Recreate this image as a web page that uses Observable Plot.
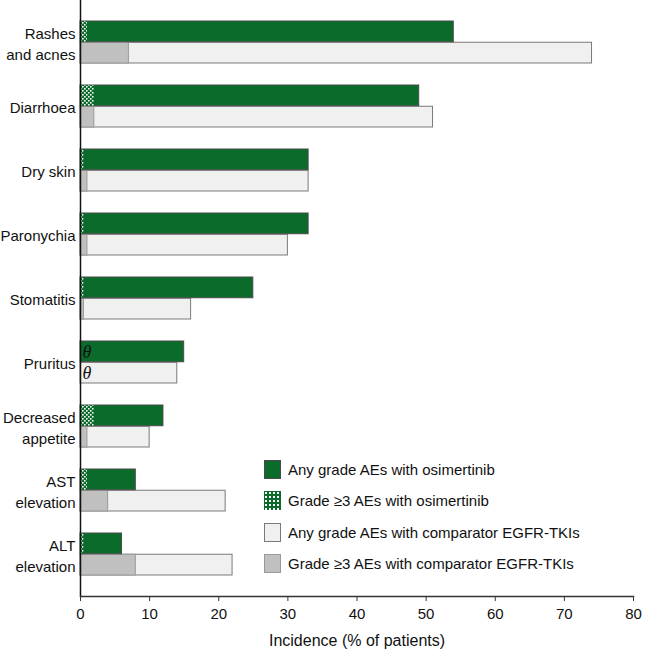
<!DOCTYPE html>
<html>
<head>
<meta charset="utf-8">
<script src="https://cdn.jsdelivr.net/npm/d3@7"></script>
<script src="https://cdn.jsdelivr.net/npm/@observablehq/plot@0.6"></script>
<style>
  body { margin: 0; background: #fff; font-family: "Liberation Sans", Arial, sans-serif; }
  #wrap { position: relative; width: 646px; height: 658px; }
  #legend { position: absolute; left: 264px; top: 459px; font-size: 15px; color: #111; }
  .item { display: flex; align-items: center; height: 20px; margin-bottom: 11.5px; }
  .sw { width: 17px; height: 19px; box-sizing: border-box; margin-right: 7px; }
</style>
</head>
<body>
<div id="wrap"></div>
<script>
const categories = ["Rashes\nand acnes", "Diarrhoea", "Dry skin", "Paronychia", "Stomatitis", "Pruritus", "Decreased\nappetite", "AST\nelevation", "ALT\nelevation"];
const osiAny  = [54, 49, 33, 33, 25, 15, 12, 8, 6];
const osiG3   = [1, 2, 0.5, 0.5, 0.5, 0, 2, 1, 0.5];
const compAny = [74, 51, 33, 30, 16, 14, 10, 21, 22];
const compG3  = [7, 2, 1, 1, 0.5, 0, 1, 4, 8];
const xTicks = [0, 10, 20, 30, 40, 50, 60, 70, 80];
const legendLabels = ["Any grade AEs with osimertinib", "Grade \u22653 AEs with osimertinib", "Any grade AEs with comparator EGFR-TKIs", "Grade \u22653 AEs with comparator EGFR-TKIs"];

const green = "#0b6b2b";
const rows = categories.map((c, i) => ({cat: c, osiAny: osiAny[i], osiG3: osiG3[i], compAny: compAny[i], compG3: compG3[i]}));
const zeroOsi = rows.filter(d => d.osiG3 === 0);
const zeroComp = rows.filter(d => d.compG3 === 0);
const half = 21.25;

const chart = Plot.plot({
  width: 646,
  height: 658,
  marginTop: 0,
  marginLeft: 80,
  marginRight: 13,
  marginBottom: 62,
  style: {fontFamily: "'Liberation Sans', Arial, sans-serif", fontSize: "15px", color: "#111", background: "#fff"},
  x: {domain: [0, 80]},
  y: {domain: categories, paddingInner: 0.336, paddingOuter: 0.324},
  marks: [
    Plot.barX(rows, {y: "cat", x: "compAny", insetTop: half, fill: "#f0f0f0", stroke: "#7a7a7a", strokeWidth: 1}),
    Plot.barX(rows.filter(d => d.compG3 > 0), {y: "cat", x: "compG3", insetTop: half, fill: "#c0c0c0", stroke: "#999", strokeWidth: 1}),
    Plot.barX(rows, {y: "cat", x: "osiAny", insetBottom: half, fill: green, stroke: "#4a4a4a", strokeWidth: 1}),
    Plot.barX(rows.filter(d => d.osiG3 > 0), {y: "cat", x: "osiG3", insetBottom: half, fill: "url(#chk)", stroke: "none"}),
    Plot.text(zeroOsi, {y: "cat", x: 0, text: () => "\u03b8", textAnchor: "start", dx: 2, dy: -10.6, fontStyle: "italic", fontFamily: "'Liberation Serif', 'DejaVu Serif', serif", fontSize: 18, fill: "#111"}),
    Plot.text(zeroComp, {y: "cat", x: 0, text: () => "\u03b8", textAnchor: "start", dx: 2, dy: 10.6, fontStyle: "italic", fontFamily: "'Liberation Serif', 'DejaVu Serif', serif", fontSize: 18, fill: "#111"}),
    Plot.text(categories, {y: d => d, x: 0, text: d => d, textAnchor: "end", dx: -5, lineHeight: 1.42, fontSize: 15, fill: "#111"}),
    Plot.ruleX([0], {stroke: "#111", strokeWidth: 1.5}),
    Plot.frame({anchor: "bottom", stroke: "#333", strokeWidth: 1.5}),
    Plot.axisX({ticks: xTicks, tickSize: 5, tickPadding: 7, fontSize: 15, stroke: "#333", label: "Incidence (% of patients)", labelAnchor: "center", labelArrow: "none", labelOffset: 49}),
    Plot.axisY({ticks: [], label: null})
  ]
});

// pattern for grade >=3 osimertinib bars
const ns = "http://www.w3.org/2000/svg";
const defs = document.createElementNS(ns, "defs");
defs.innerHTML = `<pattern id="chk" patternUnits="userSpaceOnUse" width="4" height="4">
  <rect width="4" height="4" fill="${green}"/>
  <rect x="0" y="0" width="1.6" height="1.6" fill="#fff"/>
  <rect x="2" y="2" width="1.6" height="1.6" fill="#fff"/>
</pattern>`;
chart.insertBefore(defs, chart.firstChild);

// axis title size
chart.querySelectorAll("text").forEach(t => { if (t.textContent === "Incidence (% of patients)") t.setAttribute("font-size", "16"); });

const wrap = document.getElementById("wrap");
wrap.appendChild(chart);

// legend
const swatchStyles = [
  `background:${green}; border:1px solid #4a4a4a;`,
  `background-color:${green}; background-image: radial-gradient(#fff 0.8px, transparent 1px); background-size: 4px 4px; border:none;`,
  `background:#f0f0f0; border:1px solid #7a7a7a;`,
  `background:#c0c0c0; border:1px solid #999;`
];
const legend = document.createElement("div");
legend.id = "legend";
legendLabels.forEach((lab, i) => {
  const item = document.createElement("div");
  item.className = "item";
  const sw = document.createElement("div");
  sw.className = "sw";
  sw.style.cssText = swatchStyles[i];
  const tx = document.createElement("span");
  tx.textContent = lab;
  item.appendChild(sw);
  item.appendChild(tx);
  legend.appendChild(item);
});
wrap.appendChild(legend);
</script>
</body>
</html>
